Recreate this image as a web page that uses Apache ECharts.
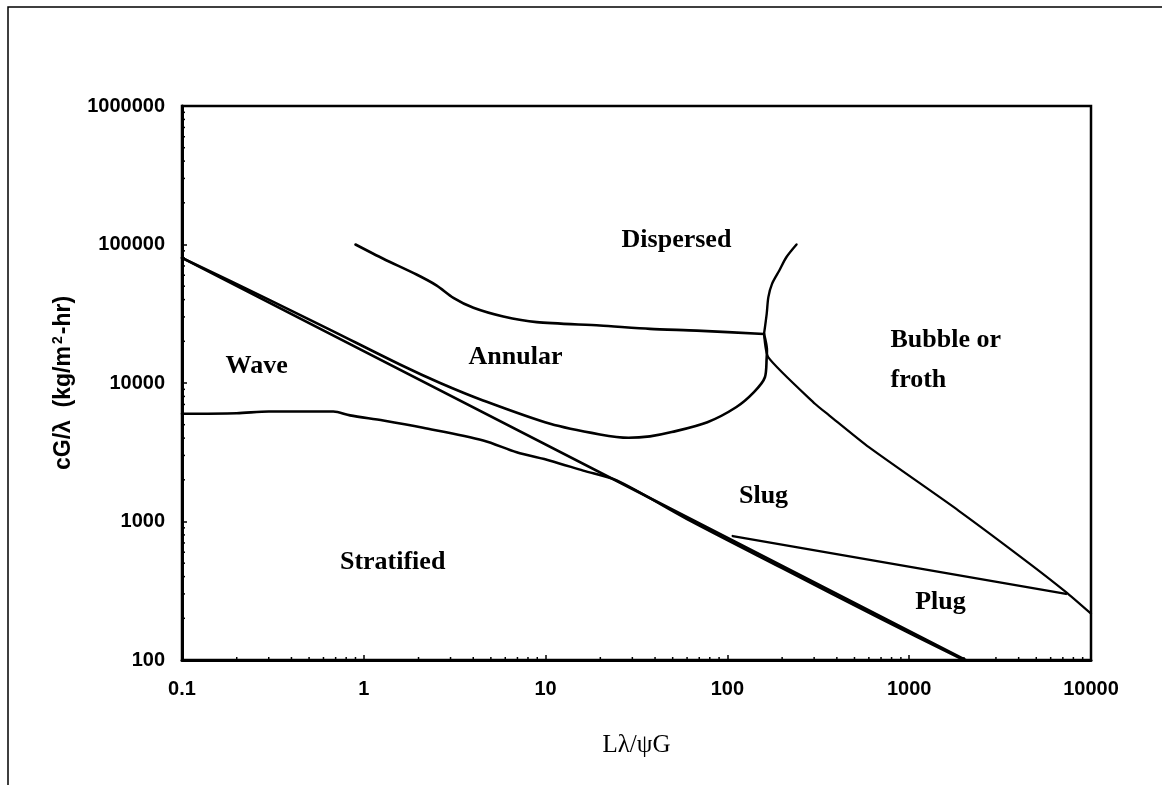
<!DOCTYPE html>
<html>
<head>
<meta charset="utf-8">
<script src="https://cdn.jsdelivr.net/npm/echarts@6/dist/echarts.min.js"></script>
<style>
html,body{margin:0;padding:0;background:#fff;}
#chart{width:1162px;height:785px;}
</style>
</head>
<body>
<div id="chart"></div>
<script>
// Baker flow-regime map, log-log axes
const xTicks = [0.1, 1, 10, 100, 1000, 10000];
const xTickLabels = ['0.1', '1', '10', '100', '1000', '10000'];
const yTicks = [100, 1000, 10000, 100000, 1000000];
const yTickLabels = ['100', '1000', '10000', '100000', '1000000'];
const minorSteps = [2, 3, 4, 5, 6, 7, 8, 9];

// Regime boundaries, [Lλ/ψG, cG/λ]
const stratifiedLine = [[0.1, 80000], [2040, 100]];
const annularLower = [[0.1, 80000], [0.3, 40000], [0.65, 24300], [1.58, 13600], [2.63, 10000],
  [4.53, 7480], [10.6, 5070], [19.9, 4250], [28.6, 4020], [37.5, 4120], [49.4, 4420],
  [77.6, 5210], [111.6, 6680], [140, 8590], [160.8, 11000], [164.5, 15300], [165, 17200], [159, 22600]];
const dispersedLower = [[0.9, 100000], [1.28, 78900], [1.95, 60700], [2.52, 50500], [3.11, 41200],
  [4.01, 34900], [5.85, 30200], [8.93, 27500], [19.9, 26000], [37.5, 24600], [67.9, 23900], [159, 22600]];
const dispersedBubble = [[159, 22600], [164.5, 31600], [168, 41700], [176, 52000], [193, 64900],
  [211, 80900], [240, 100000]];
const bubbleSlug = [[159, 22600], [168, 15300], [303, 7080], [364, 5820], [600, 3440],
  [1866, 1200], [4610, 495], [7290, 309], [10000, 216]];
const slugPlug = [[107, 785], [7290, 300]];
const waveStratified = [[0.1, 6000], [0.2, 6050], [0.3, 6230], [0.68, 6230], [0.84, 5840],
  [1.28, 5360], [2.12, 4750], [4.54, 3850], [6.93, 3160], [10.6, 2750], [16.1, 2330],
  [24.6, 1980], [60, 1040], [200, 460], [700, 198], [2000, 100]];

// Regime names and where they sit on the map
const regionNames = ['Wave', 'Annular', 'Dispersed', 'Stratified', 'Slug', 'Plug', 'Bubble or\nfroth'];
const regionX = [0.259, 6.87, 52.8, 1.45, 159, 1496, 794];
const regionY = [13200, 15280, 106900, 506, 1517, 260, 14540];

const chart = echarts.init(document.getElementById('chart'), null, { renderer: 'canvas' });

function tickLabel(ticks, labels) {
  return function (v) {
    for (let i = 0; i < ticks.length; i++) {
      if (Math.abs(Math.log10(v) - Math.log10(ticks[i])) < 1e-6) return labels[i];
    }
    return '';
  };
}

// minor tick marks at 2..9 x each decade, drawn inside the plot
const minorData = [];
xTicks.slice(0, -1).forEach(d => minorSteps.forEach(m => minorData.push([d * m, yTicks[0], 0])));
yTicks.slice(0, -1).forEach(d => minorSteps.forEach(m => minorData.push([xTicks[0], d * m, 1])));

const boundary = (data, width, smooth) => ({
  type: 'line', data: data, symbol: 'none', smooth: smooth,
  lineStyle: { color: '#000', width: width, cap: 'round', join: 'round' },
  silent: true, z: 3
});

const labelFont = {
  fontFamily: 'Liberation Serif', fontWeight: 'bold', fontSize: 26,
  color: '#000', textBorderWidth: 0, opacity: 1
};

const option = {
  animation: false,
  backgroundColor: '#fff',
  graphic: [{
    type: 'rect', shape: { x: 8, y: 7, width: 1400, height: 1000 },
    style: { fill: 'none', stroke: '#000', lineWidth: 1.5 }, silent: true
  }],
  grid: {
    left: 182, right: 71, top: 106, bottom: 125,
    show: true, borderColor: '#000', borderWidth: 2.5, backgroundColor: 'transparent'
  },
  xAxis: {
    type: 'log', logBase: 10, min: 0.1, max: 10000,
    name: 'Lλ/ψG', nameLocation: 'middle', nameGap: 73,
    nameTextStyle: { fontFamily: 'Liberation Serif', fontSize: 25, color: '#000' },
    axisLine: { show: true, lineStyle: { color: '#000', width: 3 } },
    axisTick: { show: true, inside: true, length: 5, lineStyle: { color: '#000', width: 1.5 } },
    splitLine: { show: false },
    axisLabel: {
      margin: 19, color: '#000', fontFamily: 'Liberation Sans', fontWeight: 'bold', fontSize: 20,
      formatter: tickLabel(xTicks, xTickLabels)
    }
  },
  yAxis: {
    type: 'log', logBase: 10, min: 100, max: 1000000,
    name: '{t|cG/λ  (kg/m}{s|2}{t|-hr)}', nameLocation: 'middle', nameGap: 106,
    nameTextStyle: {
      rich: {
        t: { fontFamily: 'Liberation Sans', fontWeight: 'bold', fontSize: 23, color: '#000' },
        s: { fontFamily: 'Liberation Sans', fontWeight: 'bold', fontSize: 14, color: '#000', verticalAlign: 'top', padding: [0, 2, 11, 2] }
      }
    },
    axisLine: { show: true, lineStyle: { color: '#000', width: 3 } },
    axisTick: { show: true, inside: true, length: 5, lineStyle: { color: '#000', width: 1.5 } },
    splitLine: { show: false },
    axisLabel: {
      margin: 17, color: '#000', fontFamily: 'Liberation Sans', fontWeight: 'bold', fontSize: 20,
      formatter: tickLabel(yTicks, yTickLabels)
    }
  },
  series: [
    boundary(stratifiedLine, 2.7, false),
    boundary(waveStratified, 2.6, 0.3),
    boundary(annularLower, 2.6, 0.3),
    boundary(dispersedLower, 2.6, 0.25),
    boundary(dispersedBubble, 2.4, 0.3),
    boundary(bubbleSlug, 2.2, 0.2),
    boundary(slugPlug, 2.4, false),
    {
      type: 'custom', silent: true, z: 4,
      data: minorData,
      renderItem: function (params, api) {
        const p = api.coord([api.value(0), api.value(1)]);
        const vertical = api.value(2) === 0;
        return {
          type: 'line',
          shape: vertical ? { x1: p[0], y1: p[1], x2: p[0], y2: p[1] - 3 }
                          : { x1: p[0], y1: p[1], x2: p[0] + 3, y2: p[1] },
          style: { stroke: '#000', lineWidth: 1.5 }
        };
      }
    },
    {
      type: 'scatter', silent: true, symbolSize: 1, z: 5,
      itemStyle: { color: 'rgba(0,0,0,0)' },
      data: regionNames.map((n, i) => ({
        name: n, value: [regionX[i], regionY[i]],
        label: n.indexOf('\n') >= 0 ? { align: 'left', lineHeight: 40 } : {}
      })),
      label: Object.assign({
        show: true, position: [0, 0], align: 'center', verticalAlign: 'middle',
        formatter: p => p.name
      }, labelFont),
      emphasis: { disabled: true }
    }
  ]
};

chart.setOption(option);
</script>
</body>
</html>
